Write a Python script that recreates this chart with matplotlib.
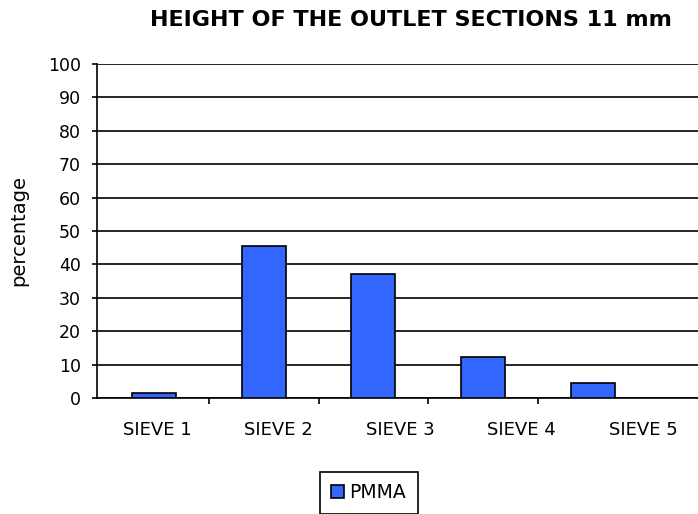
import matplotlib.pyplot as plt
from matplotlib.ticker import FixedLocator, NullFormatter

plt.rcParams["font.family"] = ["DejaVu Sans"]

sieves = ["SIEVE 1", "SIEVE 2", "SIEVE 3", "SIEVE 4", "SIEVE 5"]
pmma = [1.5, 45.5, 37.2, 12.2, 4.5]
y_ticks = [0, 10, 20, 30, 40, 50, 60, 70, 80, 90, 100]

fig = plt.figure(figsize=(6.98, 5.14), dpi=100)
ax = fig.add_axes([0.139, 0.2257, 0.861, 0.65])

pos = list(range(len(sieves)))
ax.bar(pos, pmma, width=0.4, color="#3366FF", edgecolor="black",
       linewidth=1.2, label="PMMA", zorder=3)

ax.set_xlim(-0.52, 4.96)
ax.set_ylim(0, 100)
ax.set_yticks(y_ticks)
ax.tick_params(axis="y", labelsize=12.5, length=3.6, width=1.2, pad=8)
ax.yaxis.grid(True, color="black", linewidth=1.2, zorder=0)

# tick marks between categories, labels spread under the axis
ax.xaxis.set_major_locator(FixedLocator([p + 0.5 for p in pos[:-1]]))
ax.xaxis.set_major_formatter(NullFormatter())
ax.tick_params(axis="x", length=4, width=1.2)
for i, name in enumerate(sieves):
    ax.text(0.03 + i * 1.108, -7.0, name, ha="center", va="top",
            fontsize=13, transform=ax.transData)

for side in ("top", "right"):
    ax.spines[side].set_visible(False)
for side in ("left", "bottom"):
    ax.spines[side].set_linewidth(1.2)

ax.set_ylabel("percentage", fontsize=14, labelpad=8)
ax.yaxis.set_label_coords(-0.115, 0.5)
fig.text(0.589, 0.961, "HEIGHT OF THE OUTLET SECTIONS 11 mm", ha="center",
         va="center", fontsize=16, fontweight="bold")

leg = fig.legend(loc="upper center", bbox_to_anchor=(0.528, 0.0817),
                 fontsize=13.5, frameon=True, fancybox=False, framealpha=1,
                 handlelength=0.7, handleheight=0.7, handletextpad=0.3,
                 borderpad=0.6, borderaxespad=0)
leg.get_frame().set_edgecolor("black")
leg.get_frame().set_linewidth(1.2)

fig.savefig("out.png", dpi=100)
